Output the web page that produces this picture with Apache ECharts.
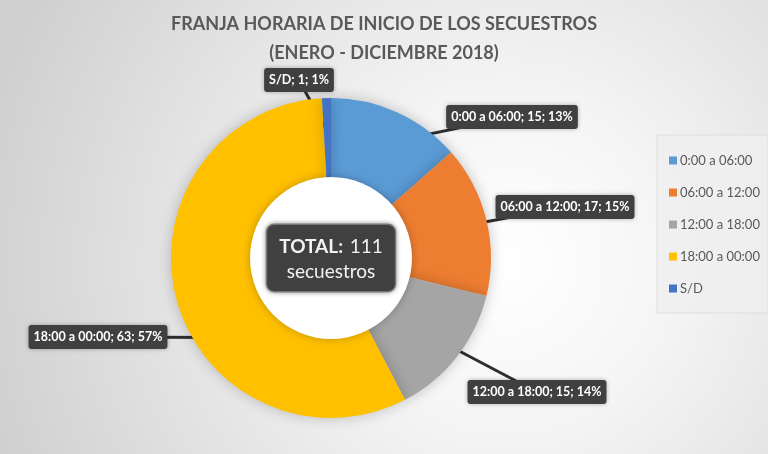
<!DOCTYPE html>
<html>
<head>
<meta charset="utf-8">
<script src="https://cdn.jsdelivr.net/npm/echarts@6/dist/echarts.min.js"></script>
<style>
html,body{margin:0;padding:0;}
#c{width:768px;height:454px;}
</style>
</head>
<body>
<div id="c"></div>
<script>
const categories = ['0:00 a 06:00', '06:00 a 12:00', '12:00 a 18:00', '18:00 a 00:00', 'S/D'];
const values = [15, 17, 15, 63, 1];
const percentLabels = ['13%', '15%', '14%', '57%', '1%'];
const colors = ['#5B9BD5', '#ED7D31', '#A5A5A5', '#FFC000', '#4472C4'];
const titleText = 'FRANJA HORARIA DE INICIO DE LOS SECUESTROS\n(ENERO - DICIEMBRE 2018)';
const totalWord = 'TOTAL:';
const unitWord = 'secuestros';

// layout (positions only)
const CX = 331, CY = 258, R0 = 81, R1 = 160;
const labelPos = [[512, 117], [565, 207], [537, 392], [98, 337], [299, 80]];
const tipOverride = [null, null, null, [211, 93], null]; // [deg clockwise from top, radius]

const total = values.reduce((a, b) => a + b, 0);
const FONT = 'Lato, "Open Sans", sans-serif';

function tipPoint(i) {
  let deg, r;
  if (tipOverride[i]) { deg = tipOverride[i][0]; r = tipOverride[i][1]; }
  else {
    let cum = 0;
    for (let j = 0; j < i; j++) cum += values[j];
    deg = (cum + values[i] / 2) / total * 360;
    r = (R0 + R1) / 2 + 5;
  }
  const a = deg * Math.PI / 180;
  return [CX + r * Math.sin(a), CY - r * Math.cos(a)];
}

const chart = echarts.init(document.getElementById('c'));
chart.setOption({
  backgroundColor: {
    type: 'radial', x: 0.66, y: 0.58, r: 1.2,
    colorStops: [
      { offset: 0, color: '#ffffff' },
      { offset: 0.3, color: '#f5f5f5' },
      { offset: 1, color: '#cfcfcf' }
    ]
  },
  color: colors,
  title: {
    text: titleText,
    left: 'center',
    top: 5,
    textStyle: { fontFamily: FONT, fontSize: 18, fontWeight: 'bold', color: '#595959', lineHeight: 29 }
  },
  legend: {
    orient: 'vertical',
    left: 657,
    top: 135,
    padding: [19, 8, 18, 12],
    itemGap: 19,
    itemWidth: 8,
    itemHeight: 8,
    icon: 'rect',
    backgroundColor: 'rgba(238,238,238,0.85)',
    borderColor: 'rgba(215,215,215,0.7)',
    borderWidth: 1,
    data: categories,
    textStyle: { fontFamily: FONT, fontSize: 13, color: '#595959', padding: [0, 0, 0, -2] }
  },
  series: [
    {
      type: 'pie',
      center: [CX, CY],
      radius: [R0 - 4, R1],
      startAngle: 90,
      clockwise: true,
      avoidLabelOverlap: false,
      minShowLabelAngle: 0,
      silent: true,
      itemStyle: { shadowBlur: 14, shadowColor: 'rgba(0,0,0,0.22)' },
      label: {
        show: true,
        position: 'outside',
        formatter: p => categories[p.dataIndex] + '; ' + values[p.dataIndex] + '; ' + percentLabels[p.dataIndex],
        fontFamily: FONT,
        fontSize: 12.5,
        fontWeight: 'bold',
        color: '#ffffff',
        backgroundColor: '#404040',
        borderRadius: 3,
        padding: [6, 5, 5, 5],
        shadowBlur: 4,
        shadowColor: 'rgba(0,0,0,0.3)'
      },
      labelLine: {
        show: true,
        lineStyle: { color: '#2e2e2e', width: 3 }
      },
      labelLayout: function (p) {
        const i = p.dataIndex;
        return {
          x: labelPos[i][0],
          y: labelPos[i][1],
          align: 'center',
          verticalAlign: 'middle',
          labelLinePoints: [tipPoint(i), labelPos[i]]
        };
      },
      data: categories.map((c, i) => ({ name: c, value: values[i] }))
    },
    {
      type: 'pie',
      center: [CX, CY],
      radius: [0, R0],
      silent: true,
      legendHoverLink: false,
      z: 5,
      itemStyle: { color: '#ffffff', shadowBlur: 8, shadowColor: 'rgba(0,0,0,0.25)' },
      label: {
        show: true,
        position: 'center',
        formatter: () => '{b|' + totalWord + '}  {n|' + total + '}\n{n|' + unitWord + '}',
        backgroundColor: '#404040',
        borderColor: '#8a8a8a',
        borderWidth: 1.5,
        borderRadius: 7,
        padding: [9, 12, 7, 12],
        shadowBlur: 5,
        shadowColor: 'rgba(0,0,0,0.35)',
        rich: {
          b: { fontFamily: FONT, fontSize: 19, fontWeight: 'bold', color: '#f2f2f2', lineHeight: 25 },
          n: { fontFamily: FONT, fontSize: 19, color: '#f2f2f2', lineHeight: 25 }
        }
      },
      labelLine: { show: false },
      data: [{ name: '__total', value: 1 }]
    }
  ]
});
</script>
</body>
</html>
